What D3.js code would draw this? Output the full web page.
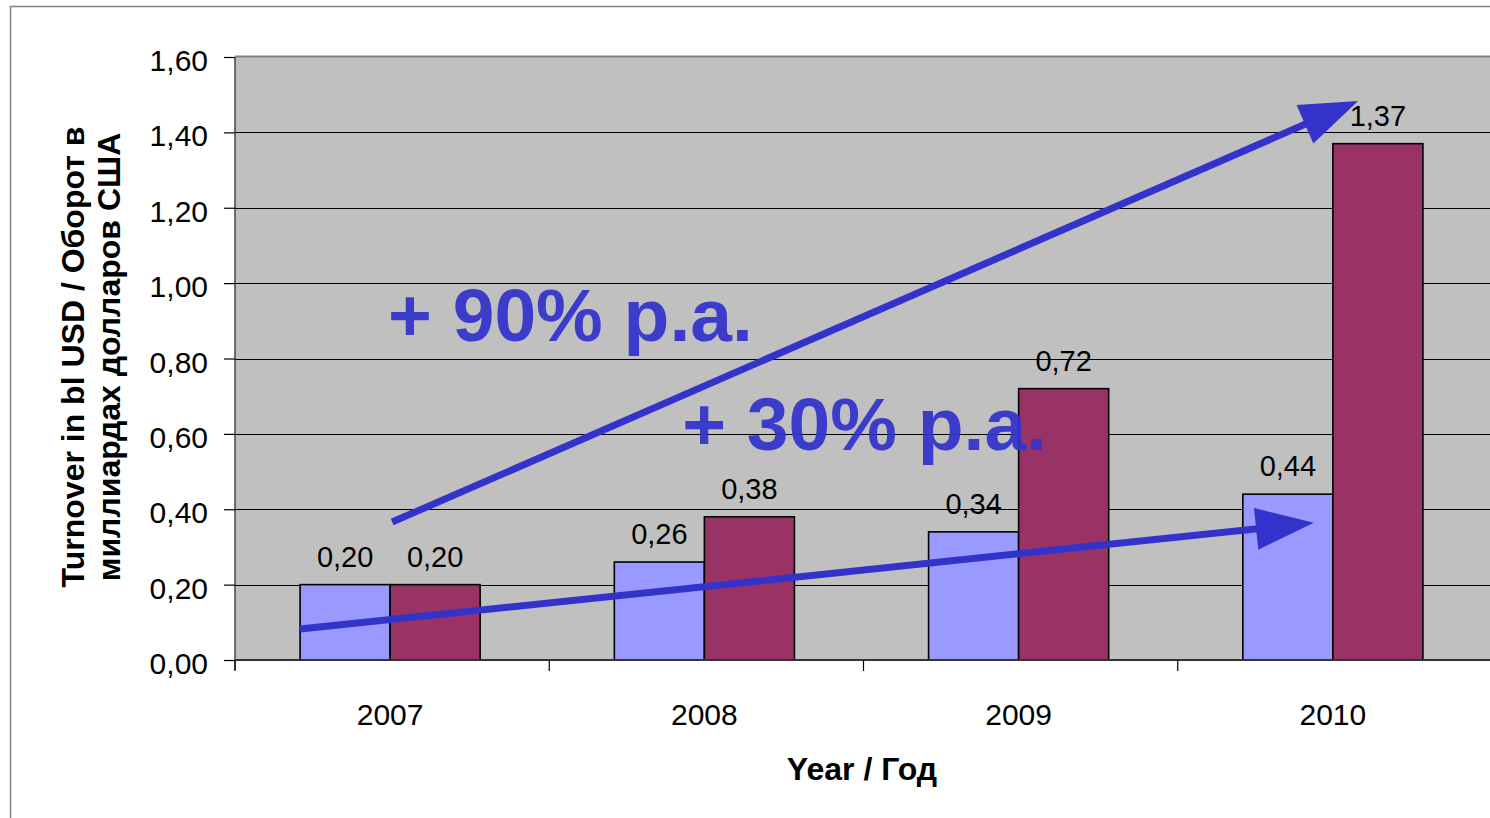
<!DOCTYPE html>
<html>
<head>
<meta charset="utf-8">
<script src="https://cdn.jsdelivr.net/npm/d3@7"></script>
<style>
html,body{margin:0;padding:0;background:#fff;}
svg{display:block;font-family:Arial,"Liberation Sans",sans-serif;}
</style>
</head>
<body>
<svg id="chart" width="1490" height="818"></svg>
<script>
// ---- data ----
const categories = ["2007", "2008", "2009", "2010"];
const seriesA = [0.20, 0.26, 0.34, 0.44];   // light purple
const seriesB = [0.20, 0.38, 0.72, 1.37];   // maroon
const yTickValues = [0, 0.2, 0.4, 0.6, 0.8, 1.0, 1.2, 1.4, 1.6];
const yTitleLines = ["Turnover in bl USD / Оборот в", "миллиардах долларов США"];
const xTitle = "Year / Год";
// annotation arrows: [category, fraction within band, value]
const arrowLowStart = ["2007", 0.207, 0.082];
const arrowLowEnd   = ["2010", 0.433, 0.364];
const arrowHighStart = ["2007", 0.500, 0.366];
const arrowHighEnd   = ["2010", 0.574, 1.483];
const annotationTexts = ["+ 90% p.a.", "+ 30% p.a."];
const annotationAnchors = [["2007", 0.487, 0.846], ["2008", 0.423, 0.556]];

// ---- layout ----
const svg = d3.select("#chart");
const plotL = 235, plotR = 1492, plotT = 57, plotB = 660;
const blue = "#3333CC";

const x = d3.scaleBand().domain(categories).range([plotL, plotR]).paddingInner(0).paddingOuter(0);
const xs = d3.scaleBand().domain([0, 1]).range([-2, x.bandwidth() - 2]).paddingInner(0).paddingOuter(0.745);
const y = d3.scaleLinear().domain([0, 1.6]).range([plotB, plotT]);
const locale = d3.formatLocale({decimal: ",", thousands: " ", grouping: [3], currency: ["", ""]});
const fmt = locale.format(".2f");
const px = p => x(p[0]) + p[1] * x.bandwidth();
const py = p => y(p[2]);

// outer frame
svg.append("rect").attr("x", 10.5).attr("y", 6.5).attr("width", 1500).attr("height", 850)
  .attr("fill", "#fff").attr("stroke", "#808080").attr("stroke-width", 1.5);

// plot background
svg.append("rect").attr("x", plotL).attr("y", plotT).attr("width", plotR - plotL + 10).attr("height", plotB - plotT)
  .attr("fill", "#C0C0C0");
svg.append("line").attr("x1", plotL).attr("x2", plotR + 10).attr("y1", plotT - 0.5).attr("y2", plotT - 0.5)
  .attr("stroke", "#808080").attr("stroke-width", 2);

// gridlines
svg.append("g").selectAll("line").data(yTickValues.slice(1, -1)).join("line")
  .attr("x1", plotL).attr("x2", plotR + 10)
  .attr("y1", d => Math.round(y(d)) + 0.5).attr("y2", d => Math.round(y(d)) + 0.5)
  .attr("stroke", "#000").attr("stroke-width", 1.2);

// bars
const groups = svg.append("g").selectAll("g").data(categories).join("g")
  .attr("transform", d => `translate(${x(d)},0)`);
groups.append("rect")
  .attr("x", xs(0)).attr("width", xs.bandwidth())
  .attr("y", (d, i) => y(seriesA[i])).attr("height", (d, i) => y(0) - y(seriesA[i]))
  .attr("fill", "#9999FF").attr("stroke", "#000").attr("stroke-width", 1.6);
groups.append("rect")
  .attr("x", xs(1)).attr("width", xs.bandwidth())
  .attr("y", (d, i) => y(seriesB[i])).attr("height", (d, i) => y(0) - y(seriesB[i]))
  .attr("fill", "#993366").attr("stroke", "#000").attr("stroke-width", 1.6);

// annotation texts
svg.append("g").selectAll("text").data(annotationTexts).join("text")
  .attr("x", (d, i) => px(annotationAnchors[i]))
  .attr("y", (d, i) => py(annotationAnchors[i]))
  .attr("fill", blue).attr("font-weight", "bold").attr("font-size", 75).attr("opacity", 0.93)
  .text(d => d);

// axes lines
svg.append("line").attr("x1", plotL).attr("x2", plotL).attr("y1", plotT).attr("y2", plotB + 10)
  .attr("stroke", "#444").attr("stroke-width", 1.5);
svg.append("line").attr("x1", plotL).attr("x2", plotR + 10).attr("y1", plotB).attr("y2", plotB)
  .attr("stroke", "#333").attr("stroke-width", 1.8);

// y axis
const yAxis = d3.axisLeft(y).tickValues(yTickValues).tickSize(11).tickPadding(16).tickFormat(fmt);
const gy = svg.append("g").attr("transform", `translate(${plotL},0)`).call(yAxis);
gy.select(".domain").remove();
gy.selectAll(".tick line").attr("stroke", "#000").attr("stroke-width", 1.2);
gy.selectAll(".tick text").attr("font-size", 30).attr("fill", "#000")
  .attr("font-family", "Arial, 'Liberation Sans', sans-serif").attr("dy", "0.45em");

// x axis ticks at band boundaries
const bounds = categories.map(c => x(c)).concat([plotR]);
svg.append("g").selectAll("line").data(bounds).join("line")
  .attr("x1", d => d).attr("x2", d => d).attr("y1", plotB).attr("y2", plotB + 11)
  .attr("stroke", "#000").attr("stroke-width", 1.2);
svg.append("g").selectAll("text").data(categories).join("text")
  .attr("x", d => x(d) + x.bandwidth() / 2 - 2).attr("y", 725)
  .attr("text-anchor", "middle").attr("font-size", 30).attr("fill", "#000").text(d => d);

// value labels
groups.append("text")
  .attr("x", xs(0) + xs.bandwidth() / 2).attr("y", (d, i) => y(seriesA[i]) - 18)
  .attr("text-anchor", "middle").attr("font-size", 29).attr("fill", "#000")
  .text((d, i) => fmt(seriesA[i]));
groups.append("text")
  .attr("x", xs(1) + xs.bandwidth() / 2).attr("y", (d, i) => y(seriesB[i]) - 18)
  .attr("text-anchor", "middle").attr("font-size", 29).attr("fill", "#000")
  .text((d, i) => fmt(seriesB[i]));

// arrows
function arrow(s, e) {
  const x1 = px(s), y1 = py(s), x2 = px(e), y2 = py(e);
  const dx = x2 - x1, dy = y2 - y1, L = Math.hypot(dx, dy);
  const ux = dx / L, uy = dy / L, headLen = 58, halfW = 21;
  const bx = x2 - ux * headLen, by = y2 - uy * headLen;
  const g = svg.append("g");
  g.append("line").attr("x1", x1).attr("y1", y1)
    .attr("x2", x2 - ux * headLen * 0.7).attr("y2", y2 - uy * headLen * 0.7)
    .attr("stroke", blue).attr("stroke-width", 7);
  g.append("polygon")
    .attr("points", [[x2, y2], [bx - uy * halfW, by + ux * halfW], [bx + uy * halfW, by - ux * halfW]].map(p => p.join(",")).join(" "))
    .attr("fill", blue);
}
arrow(arrowLowStart, arrowLowEnd);
arrow(arrowHighStart, arrowHighEnd);

// axis titles
svg.append("text").attr("x", 862).attr("y", 780).attr("text-anchor", "middle")
  .attr("font-size", 32).attr("font-weight", "bold").attr("fill", "#000").text(xTitle);
svg.append("g").selectAll("text").data(yTitleLines).join("text")
  .attr("transform", (d, i) => `translate(${84 + i * 36},357) rotate(-90)`)
  .attr("text-anchor", "middle").attr("font-size", 32).attr("font-weight", "bold").attr("fill", "#000")
  .text(d => d);
</script>
</body>
</html>
